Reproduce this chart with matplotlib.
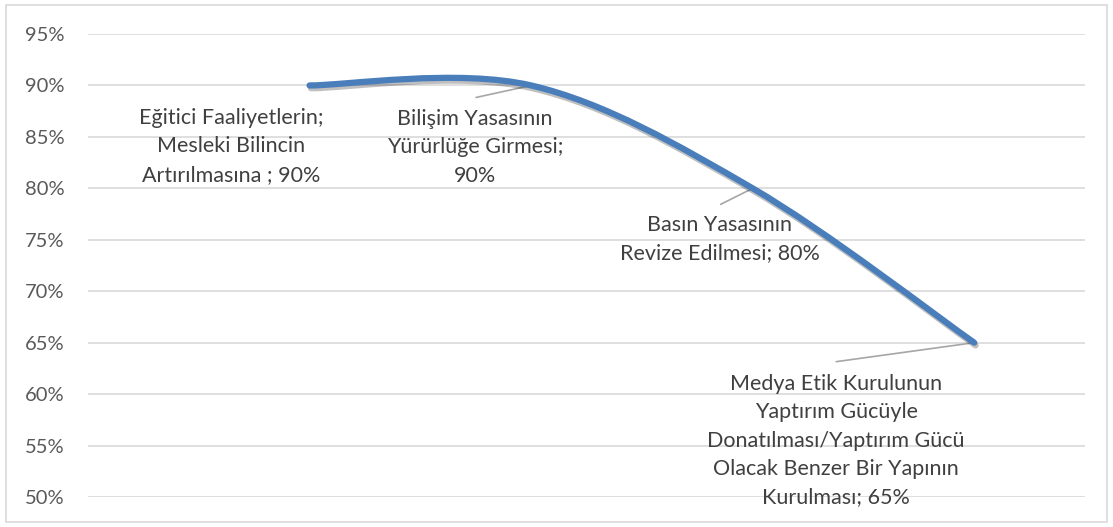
import numpy as np
import matplotlib.pyplot as plt
from matplotlib.path import Path
from matplotlib.patches import PathPatch, Rectangle
import matplotlib.patheffects as pe

plt.rcParams['font.family'] = ['Lato', 'DejaVu Sans']

# data
categories = ["Eğitici Faaliyetlerin;\nMesleki Bilincin\nArtırılmasına ",
              "Bilişim Yasasının\nYürürlüğe Girmesi;",
              "Basın Yasasının\nRevize Edilmesi",
              "Medya Etik Kurulunun\nYaptırım Gücüyle\nDonatılması/Yaptırım Gücü\nOlacak Benzer Bir Yapının\nKurulması"]
values = [0.90, 0.90, 0.80, 0.65]
label_sep = ["; ", "\n", "; ", "; "]
yticks = [0.50, 0.55, 0.60, 0.65, 0.70, 0.75, 0.80, 0.85, 0.90, 0.95]

# label placement (pixel offsets from the point) and leader ends
label_off = [(-78, -61), (-56, -62), (-33, -51), (-138, -98)]
leader_off = [None, (-55, -12), (-32, -16), (-138, -19)]

blue = '#4A7EBB'
grey_txt = '#595959'

fig = plt.figure(figsize=(11.13, 5.27), dpi=100)
ax = fig.add_axes([88 / 1113, 1 - 497 / 527, (1085 - 88) / 1113, (497 - 34) / 527])

x = np.arange(1, len(values) + 1, dtype=float)
y = np.array(values)

# smoothed line (Excel-style bezier through the points)
pts = np.column_stack([x, y])
verts = [pts[0]]
codes = [Path.MOVETO]
n = len(pts)
for i in range(n - 1):
    p0 = pts[i - 1] if i > 0 else pts[i]
    p1 = pts[i]
    p2 = pts[i + 1]
    p3 = pts[i + 2] if i + 2 < n else pts[i + 1]
    c1 = p1 + (p2 - p0) / 6
    c2 = p2 - (p3 - p1) / 6
    verts += [c1, c2, p2]
    codes += [Path.CURVE4] * 3
curve = PathPatch(Path(verts, codes), facecolor='none', edgecolor=blue, lw=4.5,
                  capstyle='round', joinstyle='round', zorder=3,
                  path_effects=[pe.SimpleLineShadow(offset=(1, -2), shadow_color='k', alpha=0.25, rho=0.3),
                                pe.Normal()])
ax.add_patch(curve)

ax.set_xlim(0, len(values) + 0.5)
ax.set_ylim(0.50, 0.95)
ax.set_yticks(yticks)
ax.set_yticklabels([f"{int(round(v * 100))}%" for v in yticks], fontsize=14.5, color=grey_txt)
ax.set_xticks([])
ax.tick_params(axis='y', length=0, pad=17)
ax.grid(axis='y', color='#D9D9D9', lw=1.2)
ax.set_axisbelow(True)
for s in ax.spines.values():
    s.set_visible(False)

for i in range(len(values)):
    txt = f"{categories[i]}{label_sep[i]}{values[i]:.0%}"
    ax.annotate(txt, xy=(x[i], y[i]), xytext=label_off[i], textcoords='offset pixels',
                ha='center', va='center', multialignment='center',
                fontsize=15.5, color='#404040', linespacing=1.52, zorder=4)
    if leader_off[i] is not None:
        ax.annotate('', xy=(x[i], y[i]), xytext=leader_off[i], textcoords='offset pixels',
                    arrowprops=dict(arrowstyle='-', color='#A6A6A6', lw=1.2,
                                    shrinkA=0, shrinkB=0), zorder=2)

# chart area border
fig.patches.append(Rectangle((6 / 1113, 5 / 527), 1101 / 1113, 517 / 527,
                             transform=fig.transFigure, fill=False,
                             edgecolor='#D9D9D9', lw=1.2))

fig.savefig('out.png', dpi=100)
